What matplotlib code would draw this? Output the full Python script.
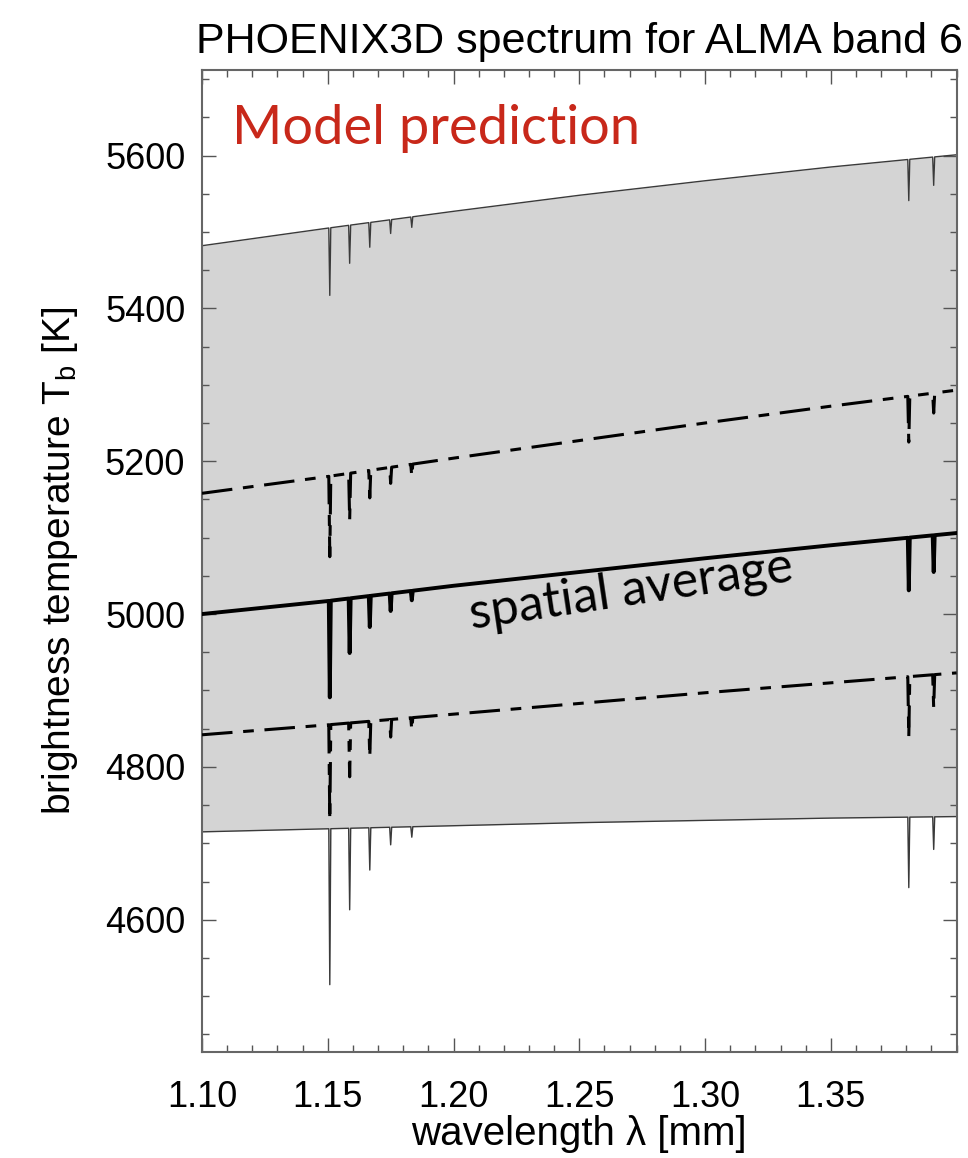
import numpy as np
import matplotlib
matplotlib.use('Agg')
import matplotlib.pyplot as plt
from matplotlib.ticker import MultipleLocator

plt.rcParams['font.family'] = ['Liberation Sans', 'DejaVu Sans']
plt.rcParams['mathtext.fontset'] = 'custom'
plt.rcParams['mathtext.rm'] = 'Liberation Sans'
plt.rcParams['mathtext.it'] = 'Liberation Sans'

# continuum, every 0.05 mm
wl_nodes = [1.10, 1.15, 1.20, 1.25, 1.30, 1.35, 1.40]
upper_env = [5482, 5505, 5527, 5548, 5567, 5585, 5601]
upper_dash = [5158, 5180, 5204, 5227, 5250, 5272, 5293]
mean_cont = [5000, 5017, 5037, 5055, 5073, 5090, 5106]
lower_dash = [4842, 4855, 4869, 4883, 4897, 4910, 4923]
lower_env = [4715, 4719, 4723, 4727, 4730, 4733, 4735]

# absorption lines: position and bottom of the dip for each curve
line_wl = [1.1508, 1.1587, 1.1667, 1.1750, 1.1834, 1.3810, 1.3909]
upper_env_dip = [5417, 5459, 5480, 5498, 5506, 5541, 5561]
upper_dash_dip = [5075, 5123, 5152, 5171, 5180, 5225, 5263]
mean_dip = [4891, 4949, 4983, 5004, 5018, 5031, 5055]
lower_dash_dip = [4730, 4787, 4813, 4839, 4848, 4839, 4877]
lower_env_dip = [4515, 4613, 4665, 4698, 4708, 4642, 4692]

xticks = [1.10, 1.15, 1.20, 1.25, 1.30, 1.35]
yticks = [4600, 4800, 5000, 5200, 5400, 5600]


def make_spectrum(cont, dips, w=0.0004):
    '''continuum + narrow dips on one shared wavelength grid'''
    wl = list(wl_nodes)
    for l in line_wl:
        wl += [l - w, l, l + w]
    wl = np.array(sorted(wl))
    tb = np.interp(wl, wl_nodes, cont)
    for l, d in zip(line_wl, dips):
        tb[np.isclose(wl, l)] = d
    return wl, tb


fig = plt.figure(figsize=(9.68, 11.58), dpi=100)
ax = fig.add_axes([0.2087, 0.0916, 0.7795, 0.848])

wl, up = make_spectrum(upper_env, upper_env_dip)
_, lo = make_spectrum(lower_env, lower_env_dip)
_, ud = make_spectrum(upper_dash, upper_dash_dip)
_, mn = make_spectrum(mean_cont, mean_dip)
_, ld = make_spectrum(lower_dash, lower_dash_dip)

ax.fill_between(wl, lo, up, color='#d4d4d4', lw=0, zorder=1)
ax.plot(wl, up, color='#3a3a3a', lw=1.0, zorder=2)
ax.plot(wl, lo, color='#3a3a3a', lw=1.0, zorder=2)
ax.plot(wl, ud, color='black', lw=2.2, ls=(0, (10, 3.5, 3.5, 3.5)), zorder=3)
ax.plot(wl, ld, color='black', lw=2.2, ls=(0, (10, 3.5, 3.5, 3.5)), zorder=3)
ax.plot(wl, mn, color='black', lw=2.8, zorder=4)

ax.set_xlim(1.10, 1.40)
ax.set_ylim(4427, 5712)
ax.set_xticks(xticks)
ax.set_xticklabels(['%.2f' % v for v in xticks])
ax.set_yticks(yticks)
ax.xaxis.set_minor_locator(MultipleLocator(0.01))
ax.yaxis.set_minor_locator(MultipleLocator(50))
ax.tick_params(which='both', direction='in', top=True, right=True,
               color='#555555', width=1.0)
ax.tick_params(which='major', length=10)
ax.tick_params(which='minor', length=5)
ax.tick_params(axis='x', labelsize=26, pad=20)
ax.tick_params(axis='y', labelsize=26, pad=12)
for s in ax.spines.values():
    s.set_color('#666666')
    s.set_linewidth(1.5)

ax.set_xlabel('wavelength λ [mm]', fontsize=29, labelpad=0)
ax.set_ylabel(r'brightness temperature T$_\mathrm{b}$ [K]', fontsize=28, labelpad=18)
ax.set_title('PHOENIX3D spectrum for ALMA band 6', fontsize=31, pad=12)

ax.text(0.04, 0.94, 'Model prediction', transform=ax.transAxes,
        fontsize=39, color='#c8281a', family=['Lato', 'DejaVu Sans'],
        va='center', ha='left')
ax.text(0.569, 0.47, 'spatial average', transform=ax.transAxes,
        fontsize=36, color='black', family=['Lato', 'DejaVu Sans'],
        rotation=8.5, va='center', ha='center')

fig.savefig('out.png', dpi=100)
